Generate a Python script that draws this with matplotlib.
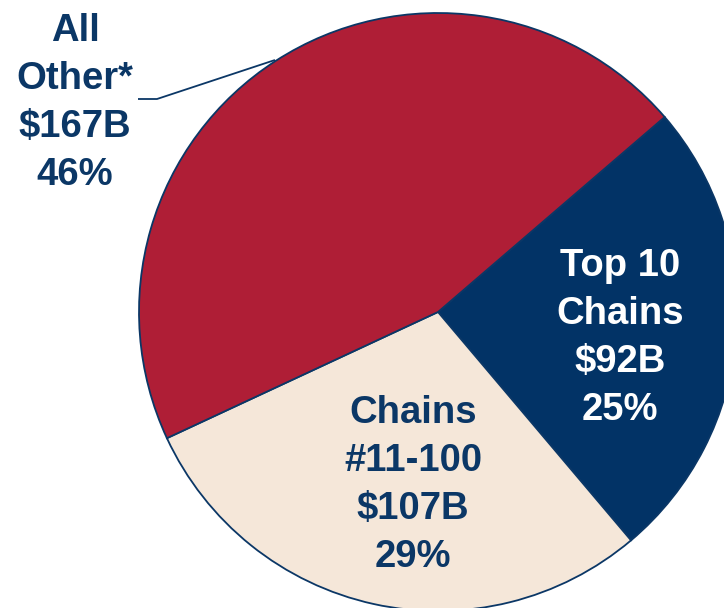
import matplotlib
matplotlib.use("Agg")
import matplotlib.pyplot as plt

plt.rcParams['font.family'] = ['Liberation Sans', 'DejaVu Sans']

# Sales by segment, $ billions
segments = ["Top 10\nChains", "Chains\n#11-100", "All\nOther*"]
sales_b = [92, 107, 167]
shares = [25, 29, 46]

colors = ["#023366", "#F5E7D9", "#AF1E36"]
navy = "#0B3766"

W, H = 724, 608
fig = plt.figure(figsize=(W / 100, H / 100), dpi=100)
ax = fig.add_axes([0, 0, 1, 1])

cx, cy, r = 438, H - 312, 299
ax.pie(sales_b, colors=colors, startangle=40.7, counterclock=False,
       center=(cx, cy), radius=r, frame=True,
       wedgeprops=dict(edgecolor=navy, linewidth=1.3))

labels = [f"{s}\n${v}B\n{p}%" for s, v, p in zip(segments, sales_b, shares)]
text_pos = [(620, H - 338), (413, H - 485), (75, H - 103)]
text_col = ["white", navy, navy]
for lab, (x, y), c in zip(labels, text_pos, text_col):
    ax.text(x, y, lab, ha="center", va="center", color=c, fontsize=27.5,
            fontweight="bold", linespacing=1.43)

# leader line for the outside label
ax.plot([138, 157, 275], [H - 99, H - 99, H - 60], color=navy, lw=1.3,
        solid_capstyle="butt")

ax.set_xlim(0, W)
ax.set_ylim(0, H)
ax.set_aspect("auto")
ax.axis("off")
fig.savefig("out.png", dpi=100)
